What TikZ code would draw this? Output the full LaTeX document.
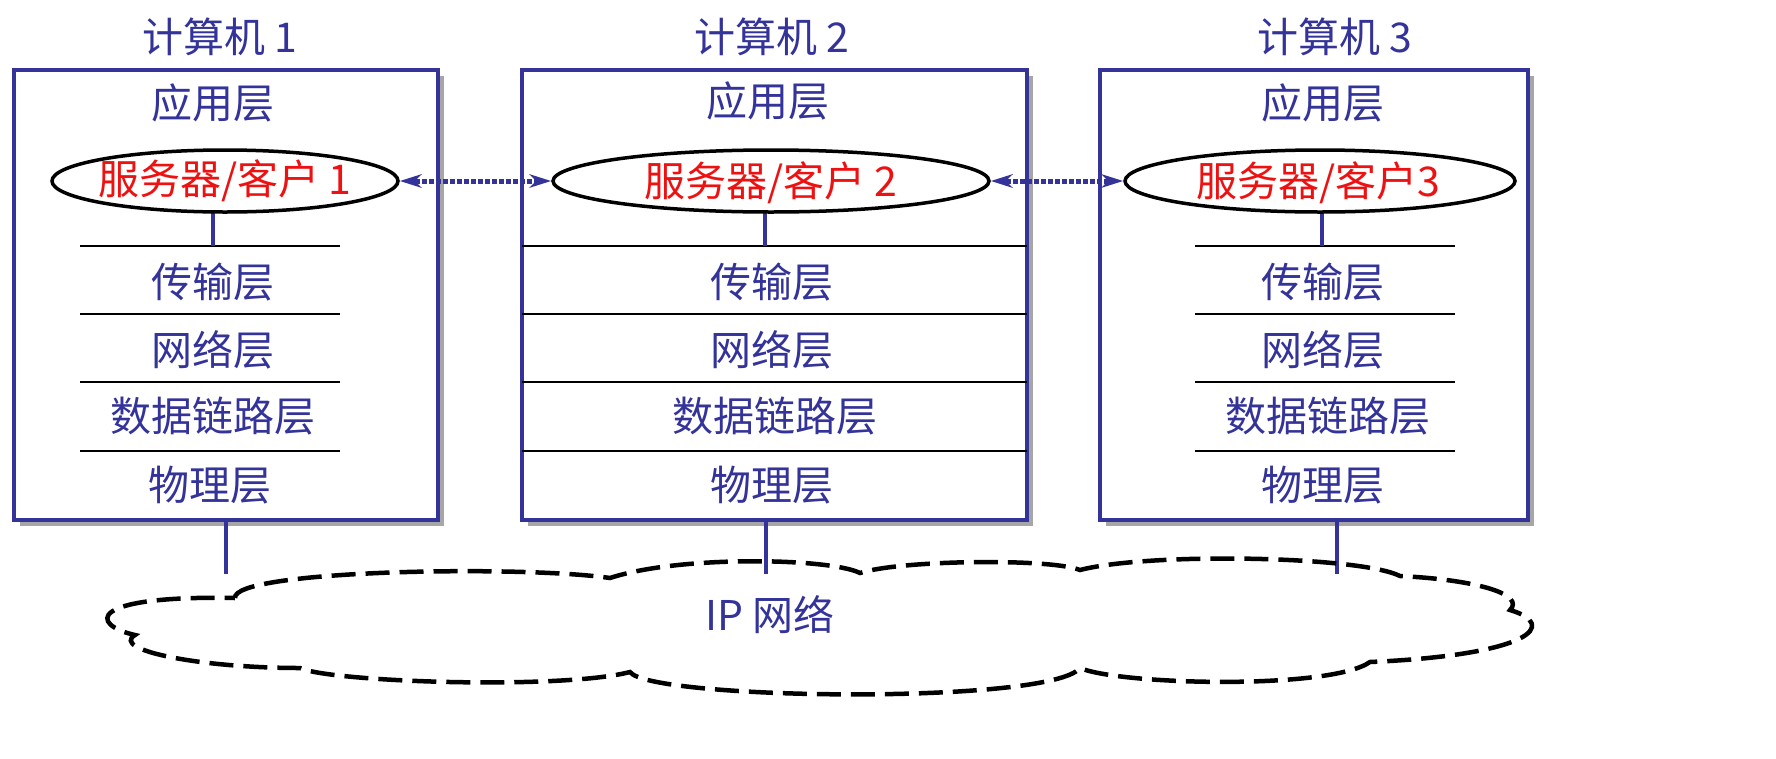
\documentclass[tikz,border=0pt]{standalone}
\usepackage{fontspec}
\setmainfont{Noto Sans CJK SC}
\usetikzlibrary{arrows.meta}
\definecolor{nblue}{HTML}{333399}
\definecolor{nred}{HTML}{EE1111}
\begin{document}
\begin{tikzpicture}[x=1pt,y=-1pt,
  txt/.style={text=nblue,font=\fontsize{41}{43}\selectfont,inner sep=0pt},
  rtxt/.style={text=nred,font=\fontsize{41}{43}\selectfont,inner sep=0pt},
  sep/.style={draw=black,line width=1.5pt},
  stub/.style={draw=nblue,line width=4pt},
  darr/.style={draw=nblue,line width=5pt,dotted,{Stealth[length=22pt,width=14pt,line width=0pt]}-{Stealth[length=22pt,width=14pt,line width=0pt]},shorten <=2pt,shorten >=2pt}]
\useasboundingbox (0,0) rectangle (1776,758);
\fill[white] (0,0) rectangle (1776,758);
% boxes with shadows
\foreach \a/\b/\n in {14/438/1,522/1027/2,1100/1528/3}{
  \fill[gray!70] (\a+6,76) rectangle (\b+6,526);
  \draw[nblue,line width=4.5pt,fill=white] (\a,70) rectangle (\b,520);
}
\node[txt] (t1) at (220,37) {计算机 1};
\node[txt] (t2) at (772,37) {计算机 2};
\node[txt] (t3) at (1335,37) {计算机 3};
% box 1
\node[txt] (a1) at (213,103) {应用层};
\draw[sep] (80,246) -- (340,246); \draw[sep] (80,314) -- (340,314);
\draw[sep] (80,382) -- (340,382); \draw[sep] (80,451) -- (340,451);
\node[txt] (c1) at (213,282) {传输层};
\node[txt] (n1) at (213,350) {网络层};
\node[txt] (d1) at (213,416) {数据链路层};
\node[txt] (p1) at (210,485) {物理层};
\coordinate (s1) at (213,246);
\draw[stub] (213,210) -- (s1);
\draw[black,line width=3.5pt,fill=white] (225,181) ellipse [x radius=173, y radius=31];
\coordinate (e1r) at (398,181);
\node[rtxt] (r1) at (225,181) {服务器/客户 1};
% box 2
\node[txt] (a2) at (768,101) {应用层};
\draw[sep] (522,246) -- (1027,246); \draw[sep] (522,314) -- (1027,314);
\draw[sep] (522,382) -- (1027,382); \draw[sep] (522,451) -- (1027,451);
\node[txt] (c2) at (772,282) {传输层};
\node[txt] (n2) at (772,350) {网络层};
\node[txt] (d2) at (775,416) {数据链路层};
\node[txt] (p2) at (772,485) {物理层};
\draw[stub] (765,210) -- (765,246);
\draw[black,line width=3.5pt,fill=white] (771,181) ellipse [x radius=218, y radius=31];
\coordinate (e2l) at (553,181); \coordinate (e2r) at (989,181);
\node[rtxt] (r2) at (771,183) {服务器/客户 2};
% box 3
\node[txt] (a3) at (1323,103) {应用层};
\draw[sep] (1195,246) -- (1455,246); \draw[sep] (1195,314) -- (1455,314);
\draw[sep] (1195,382) -- (1455,382); \draw[sep] (1195,451) -- (1455,451);
\node[txt] (c3) at (1323,282) {传输层};
\node[txt] (n3) at (1323,350) {网络层};
\node[txt] (d3) at (1328,416) {数据链路层};
\node[txt] (p3) at (1323,485) {物理层};
\draw[stub] (1322,210) -- (1322,246);
\draw[black,line width=3.5pt,fill=white] (1320,181) ellipse [x radius=195, y radius=31];
\coordinate (e3l) at (1125,181);
\node[rtxt] (r3) at (1318,183) {服务器/客户3};
% arrows
\draw[darr] (e1r) -- (e2l);
\draw[darr] (e2r) -- (e3l);
% stubs to network
\draw[stub] (226,522) -- (226,574);
\draw[stub] (766,522) -- (766,574);
\draw[stub] (1337,522) -- (1337,574);
% cloud
\draw[black,line width=4.5pt,dash pattern=on 24pt off 10pt]
  (235,598) .. controls (232,570) and (520,565) .. (610,578)
  .. controls (680,555) and (830,558) .. (860,573)
  .. controls (900,560) and (1050,558) .. (1080,570)
  .. controls (1150,552) and (1360,556) .. (1400,576)
  .. controls (1480,580) and (1525,595) .. (1510,610)
  .. controls (1560,625) and (1530,655) .. (1370,662)
  .. controls (1330,690) and (1120,685) .. (1080,668)
  .. controls (1050,705) and (650,700) .. (630,672)
  .. controls (560,690) and (330,682) .. (300,668)
  .. controls (200,668) and (110,650) .. (135,635)
  .. controls (90,625) and (85,595) .. cycle;
\node[txt] (ip) at (770,615) {IP 网络};
\end{tikzpicture}
\end{document}
